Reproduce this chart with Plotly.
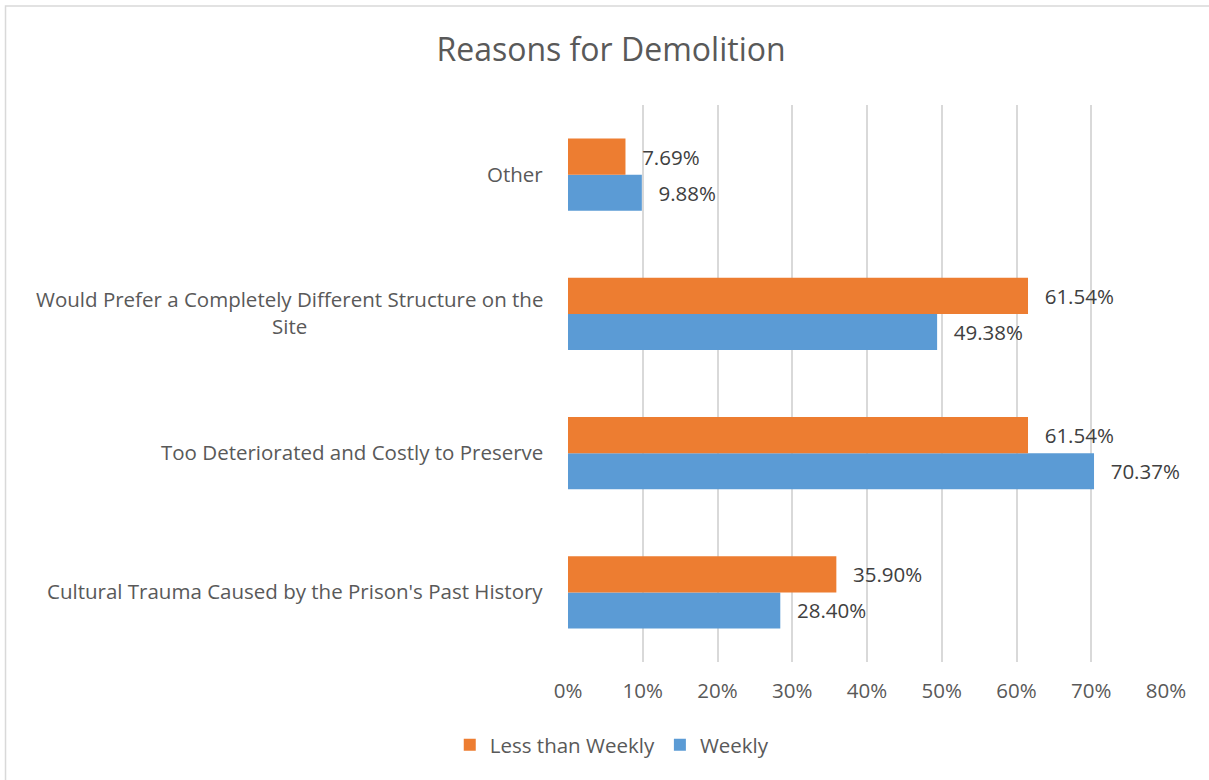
import plotly.graph_objects as go

categories = ["Cultural Trauma Caused by the Prison's Past History",
              "Too Deteriorated and Costly to Preserve",
              "Would Prefer a Completely Different Structure on the<br>Site",
              "Other"]
weekly = [0.2840, 0.7037, 0.4938, 0.0988]
less_than_weekly = [0.3590, 0.6154, 0.6154, 0.0769]
tick_vals = [0, 0.1, 0.2, 0.3, 0.4, 0.5, 0.6, 0.7, 0.8]
tick_text = ["0%", "10%", "20%", "30%", "40%", "50%", "60%", "70%", "80%"]

FONT = "Open Sans"
GREY = "#595959"
FS = 20.5

fig = go.Figure()
fig.add_trace(go.Bar(
    y=categories, x=weekly, orientation="h", name="Weekly",
    marker=dict(color="#5B9BD5", line=dict(width=0)),
    text=[f"\u2002\u2009{v*100:.2f}%" for v in weekly], textposition="outside",
    textfont=dict(family=FONT, size=FS, color="#404040"), cliponaxis=False))
fig.add_trace(go.Bar(
    y=categories, x=less_than_weekly, orientation="h", name="Less than Weekly",
    marker=dict(color="#ED7D31", line=dict(width=0)),
    text=[f"\u2002\u2009{v*100:.2f}%" for v in less_than_weekly], textposition="outside",
    textfont=dict(family=FONT, size=FS, color="#404040"), cliponaxis=False))

for c in categories:
    fig.add_annotation(x=0, y=c, xref="paper", yref="y", text=c, showarrow=False,
                       xanchor="right", align="center", xshift=-23, yshift=1,
                       font=dict(family=FONT, size=FS, color=GREY))

fig.add_shape(type="rect", xref="paper", yref="paper",
              x0=-0.9406, x1=1.2, y0=-0.4, y1=1.1777,
              line=dict(color="#D9D9D9", width=1.5), layer="below")

fig.update_layout(
    width=1209, height=780,
    margin=dict(l=568, r=43, t=105, b=118),
    paper_bgcolor="white", plot_bgcolor="white",
    barmode="group", bargap=0.481, bargroupgap=0,
    title=dict(text="Reasons for Demolition", x=611/1209, xanchor="center",
               y=1 - 50/780, yanchor="middle",
               font=dict(family=FONT, size=32, color=GREY)),
    xaxis=dict(range=[0, 0.8], tickvals=tick_vals, ticktext=tick_text,
               showgrid=True, gridcolor="#D9D9D9", gridwidth=1.5,
               zeroline=False, showline=False, ticks="",
               tickfont=dict(family=FONT, size=FS, color=GREY),
               ticklabelstandoff=14),
    yaxis=dict(showticklabels=False, showgrid=False, zeroline=False,
               categoryorder="array", categoryarray=categories),
    legend=dict(orientation="h", x=0.074, xanchor="center", y=-0.149,
                yanchor="middle", traceorder="reversed",
                font=dict(family=FONT, size=FS, color=GREY)),
    showlegend=True,
)

fig.write_html("out.html", config={"displayModeBar": False},
               post_script="document.body.style.margin='0';")
